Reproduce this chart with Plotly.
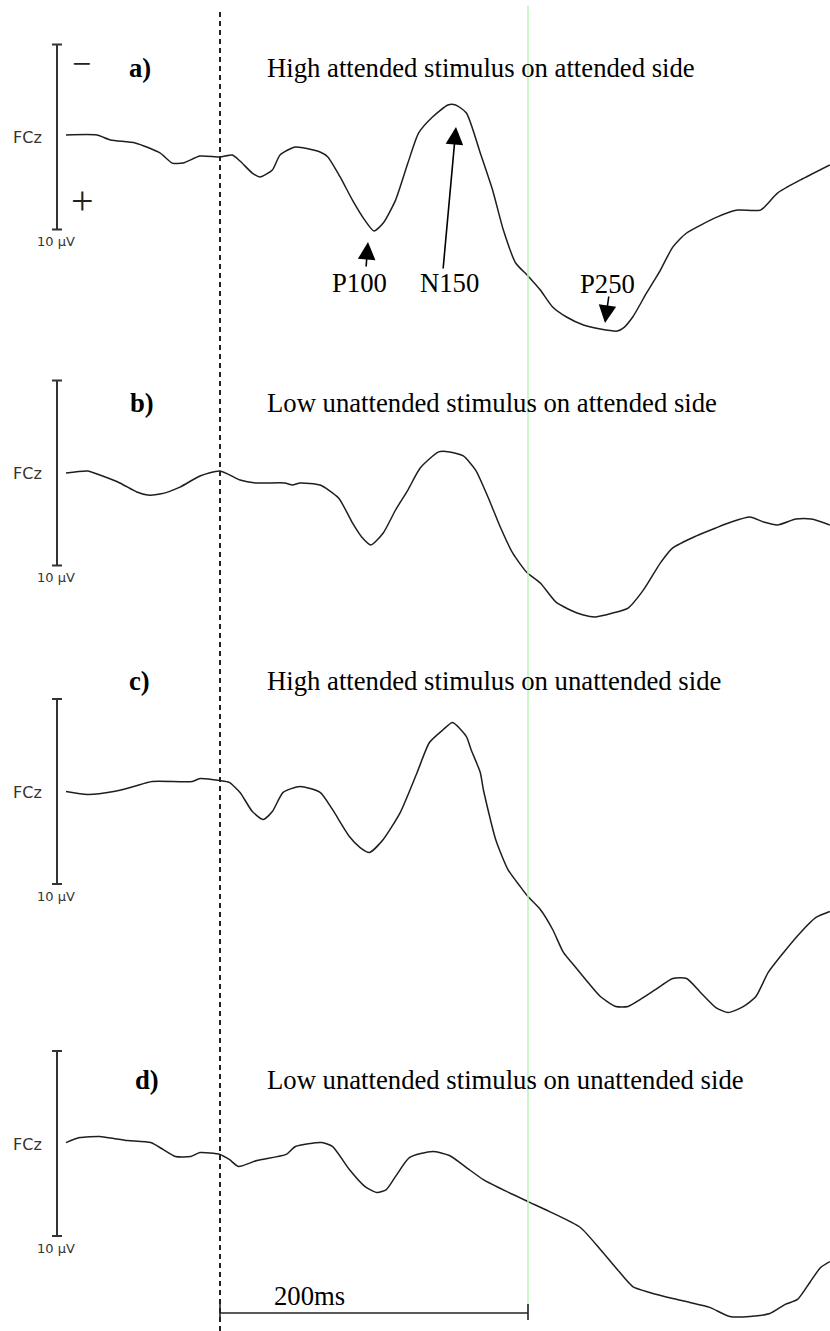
import plotly.graph_objects as go

# ---------------- data (time in ms, amplitude in µV, negative plotted up) ----------------
t_a = [-100, -80, -71, -55, -39, -31, -24, -13, 0, 8, 13, 21, 26, 34, 39, 49, 65, 70, 78, 86, 94, 100,
       106, 114, 122, 129, 138, 148, 153, 160, 169, 177, 184, 192, 200, 208, 216, 225, 236, 247, 258,
       262, 268, 277, 286, 294, 303, 323, 336, 351, 362, 377, 396]
v_a = [-0.11, -0.11, 0.16, 0.32, 0.86, 1.41, 1.41, 1.03, 1.08, 0.97, 1.30, 1.95, 2.16, 1.78, 0.97, 0.54,
       0.81, 1.08, 2.16, 3.41, 4.49, 5.08, 4.65, 3.41, 1.41, -0.22, -1.08, -1.73, -1.73, -1.30, 0.86, 2.86,
       5.03, 6.81, 7.51, 8.27, 9.19, 9.73, 10.16, 10.38, 10.49, 10.32, 9.73, 8.43, 7.19, 5.95, 5.19, 4.32,
       3.95, 3.95, 3.03, 2.32, 1.51]

t_b = [-100, -86, -78, -65, -54, -47, -39, -26, -13, 0, 13, 23, 42, 47, 52, 65, 77, 86, 92, 98, 106, 114,
       122, 130, 142, 149, 158, 166, 174, 182, 190, 199, 208, 218, 226, 236, 244, 255, 265, 275, 286, 294,
       309, 322, 332, 344, 353, 362, 374, 384, 396]
v_b = [0, -0.11, 0.11, 0.54, 1.03, 1.19, 1.14, 0.76, 0.16, -0.11, 0.38, 0.54, 0.54, 0.65, 0.54, 0.65,
       1.35, 2.70, 3.46, 3.89, 3.24, 2.00, 0.92, -0.27, -1.14, -1.14, -0.92, -0.16, 1.30, 2.92, 4.32, 5.35,
       5.95, 6.97, 7.35, 7.68, 7.78, 7.57, 7.30, 6.32, 4.86, 4.05, 3.41, 2.97, 2.65, 2.38, 2.65, 2.81,
       2.49, 2.49, 2.81]

t_c = [-100, -86, -69, -56, -44, -18, -13, 0, 6, 13, 21, 28, 34, 41, 52, 65, 73, 84, 91, 97, 106, 117,
       128, 136, 145, 151, 160, 163, 169, 171, 179, 187, 195, 200, 208, 216, 223, 231, 239, 247, 257, 265,
       273, 283, 294, 303, 312, 322, 330, 340, 348, 356, 366, 377, 387, 396]
v_c = [0, 0.16, 0, -0.27, -0.54, -0.54, -0.70, -0.59, -0.49, 0.05, 1.08, 1.51, 1.08, 0.05, -0.27, 0.05,
       0.97, 2.43, 3.03, 3.30, 2.59, 1.14, -1.03, -2.65, -3.35, -3.73, -2.97, -2.27, -1.03, -0.11, 2.59,
       4.22, 5.14, 5.68, 6.38, 7.46, 8.70, 9.51, 10.32, 11.08, 11.62, 11.62, 11.24, 10.70, 10.11, 10.11,
       10.86, 11.68, 11.95, 11.62, 11.08, 9.78, 8.70, 7.62, 6.81, 6.49]

t_d = [-100, -91, -78, -69, -60, -45, -37, -29, -19, -13, 0, 6, 12, 24, 43, 49, 66, 73, 84, 94, 102, 108,
       114, 123, 138, 149, 160, 171, 186, 200, 214, 234, 247, 258, 268, 279, 294, 305, 318, 331, 344, 357,
       367, 375, 383, 390, 396]
v_d = [-0.05, -0.32, -0.38, -0.27, -0.16, -0.05, 0.32, 0.70, 0.70, 0.49, 0.59, 0.86, 1.24, 0.92, 0.59,
       0.16, -0.05, 0.16, 1.41, 2.32, 2.65, 2.49, 1.78, 0.76, 0.43, 0.65, 1.30, 1.95, 2.59, 3.14, 3.68,
       4.54, 5.73, 6.81, 7.73, 8.05, 8.38, 8.59, 8.86, 9.35, 9.35, 9.19, 8.70, 8.43, 7.51, 6.70, 6.38]

panel_letters = ["a)", "b)", "c)", "d)"]
panel_titles = ["High attended stimulus on attended side",
                "Low unattended stimulus on attended side",
                "High attended stimulus on unattended side",
                "Low unattended stimulus on unattended side"]
channel = "FCz"
scale_label = "10 µV"
scale_uv = 10          # length of vertical scale bar (µV)
time_scale_ms = 200    # horizontal scale bar
time_scale_label = "200ms"
components = ["P100", "N150", "P250"]

# ---------------- layout constants (pixels) ----------------
W, H = 830, 1331
ONSET_PX = 220
PX_PER_MS = 1.54
PX_PER_UV = 18.5
baseline_px = [137, 473, 791.5, 1143.5]
title_px = [68, 403, 681, 1080]
letter_x_px = [127, 128, 127, 133]
SERIF = "Liberation Serif, Times New Roman, serif"
SANS = "DejaVu Sans, Arial, sans-serif"
TITLE_SIZE = 26.7


def px(x):
    return x / W


def py(y):
    return 1 - y / H


fig = go.Figure()
series = [(t_a, v_a), (t_b, v_b), (t_c, v_c), (t_d, v_d)]
for i, (t, v) in enumerate(series):
    fig.add_trace(go.Scatter(
        x=t, y=v, mode="lines", yaxis="y" if i == 0 else f"y{i + 1}",
        line=dict(color="#1e1e1e", width=1.5, shape="spline", smoothing=0.6),
        showlegend=False, hoverinfo="skip"))

layout = dict(
    width=W, height=H, margin=dict(l=0, r=0, t=0, b=0),
    paper_bgcolor="white", plot_bgcolor="white", showlegend=False,
    xaxis=dict(range=[-ONSET_PX / PX_PER_MS, (W - ONSET_PX) / PX_PER_MS], visible=False,
               fixedrange=True, domain=[0, 1]),
)
for i, B in enumerate(baseline_px):
    key = "yaxis" if i == 0 else f"yaxis{i + 1}"
    ax = dict(range=[(H - B) / PX_PER_UV, -B / PX_PER_UV], visible=False, fixedrange=True,
              domain=[0, 1])
    if i > 0:
        ax["overlaying"] = "y"
    layout[key] = ax
fig.update_layout(**layout)

shapes = []
# stimulus onset dashed line
shapes.append(dict(type="line", xref="x", yref="paper", x0=0, x1=0, y0=py(12), y1=0,
                   line=dict(color="#222", width=2, dash="5px,4px")))
# green reference line at 200 ms
shapes.append(dict(type="line", xref="x", yref="paper", x0=time_scale_ms, x1=time_scale_ms,
                   y0=py(6), y1=py(1312), line=dict(color="#b8f5b8", width=1.5)))
# vertical scale bars
for i in range(4):
    yref = "y" if i == 0 else f"y{i + 1}"
    half = scale_uv / 2
    shapes.append(dict(type="line", xref="paper", yref=yref, x0=px(57), x1=px(57), y0=-half, y1=half,
                       line=dict(color="#333", width=2)))
    for yy in (-half, half):
        shapes.append(dict(type="line", xref="paper", yref=yref, x0=px(52), x1=px(62), y0=yy, y1=yy,
                           line=dict(color="#333", width=2)))
# horizontal time scale bar
shapes.append(dict(type="line", xref="x", yref="paper", x0=0, x1=time_scale_ms, y0=py(1313), y1=py(1313),
                   line=dict(color="#222", width=1.6)))
for xx in (0, time_scale_ms):
    shapes.append(dict(type="line", xref="x", yref="paper", x0=xx, x1=xx, y0=py(1304), y1=py(1320),
                       line=dict(color="#222", width=1.6)))
fig.update_layout(shapes=shapes)

ann = []
for i in range(4):
    B = baseline_px[i]
    ann.append(dict(text=channel, x=px(27), y=py(B + 1), xref="paper", yref="paper", showarrow=False,
                    xanchor="center", yanchor="middle", font=dict(family=SANS, size=16, color="#333")))
    ann.append(dict(text=scale_label, x=px(56), y=py(B + scale_uv / 2 * PX_PER_UV + 12), xref="paper",
                    yref="paper", showarrow=False, xanchor="center", yanchor="middle",
                    font=dict(family=SANS, size=13, color="#333")))
    ann.append(dict(text="<b>" + panel_letters[i] + "</b>", x=px(letter_x_px[i]), y=py(title_px[i]),
                    xref="paper", yref="paper", showarrow=False, xanchor="left", yanchor="middle",
                    font=dict(family=SERIF, size=TITLE_SIZE, color="black")))
    ann.append(dict(text=panel_titles[i], x=px(265), y=py(title_px[i]), xref="paper", yref="paper",
                    showarrow=False, xanchor="left", yanchor="middle",
                    font=dict(family=SERIF, size=TITLE_SIZE, color="black")))

# polarity signs
ann.append(dict(text="−", x=px(81), y=py(64), xref="paper", yref="paper", showarrow=False,
                xanchor="center", yanchor="middle",
                font=dict(family=SERIF, size=34, color="#222")))
ann.append(dict(text="+", x=px(82), y=py(200), xref="paper", yref="paper", showarrow=False,
                xanchor="center", yanchor="middle",
                font=dict(family=SERIF, size=40, color="#222")))

# component labels and arrows
comp_text_px = [(359, 283), (449, 283), (607, 284)]
comp_arrow_px = [((368, 242), (366, 268)), ((456, 127), (443, 270)), ((605, 323), (609, 295))]
for name, (tx, ty), ((hx, hy), (sx, sy)) in zip(components, comp_text_px, comp_arrow_px):
    ann.append(dict(text=name, x=px(tx), y=py(ty), xref="paper", yref="paper", showarrow=False,
                    xanchor="center", yanchor="middle",
                    font=dict(family=SERIF, size=TITLE_SIZE, color="black")))
    ann.append(dict(text="", x=px(hx), y=py(hy), xref="paper", yref="paper", showarrow=True,
                    ax=sx - hx, ay=sy - hy, arrowhead=2, arrowsize=2.2, arrowwidth=1.6,
                    arrowcolor="black", standoff=0))

ann.append(dict(text=time_scale_label, x=px(272), y=py(1296), xref="paper", yref="paper",
                showarrow=False, xanchor="left", yanchor="middle",
                font=dict(family=SERIF, size=TITLE_SIZE, color="black")))
fig.update_layout(annotations=ann)

fig.write_html("out.html")
